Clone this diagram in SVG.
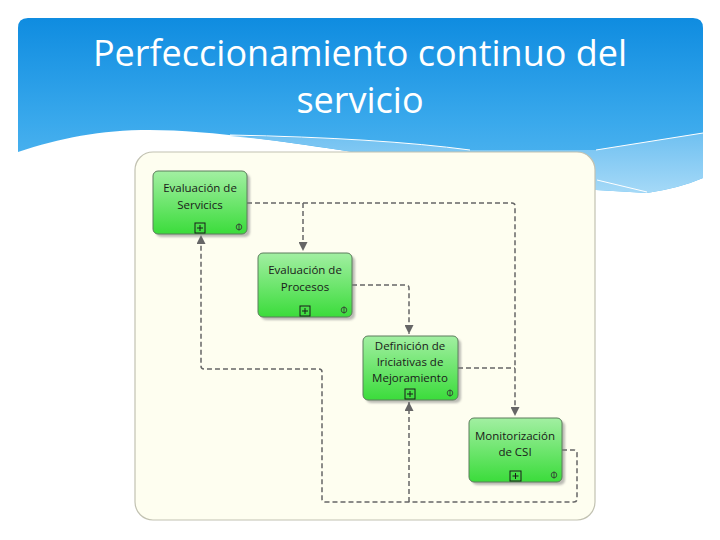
<svg xmlns="http://www.w3.org/2000/svg" width="720" height="540" viewBox="0 0 720 540">
<defs>
<linearGradient id="sky" x1="0" y1="0" x2="0" y2="1">
<stop offset="0" stop-color="#0f8ce0"/>
<stop offset="0.6" stop-color="#3aa9ec"/>
<stop offset="1" stop-color="#5ab9f0"/>
</linearGradient>
<linearGradient id="band" x1="0" y1="0" x2="0" y2="1">
<stop offset="0" stop-color="#6fc0f1"/>
<stop offset="1" stop-color="#a5d9f7"/>
</linearGradient>
<linearGradient id="green" x1="0" y1="0" x2="0" y2="1">
<stop offset="0" stop-color="#a2efa2"/>
<stop offset="1" stop-color="#3bdc3b"/>
</linearGradient>
<filter id="blur" x="-10%" y="-10%" width="130%" height="130%">
<feGaussianBlur stdDeviation="1.2"/>
</filter>
<marker id="arr" viewBox="0 0 10 10" refX="10" refY="5" markerWidth="9" markerHeight="9" markerUnits="userSpaceOnUse" orient="auto">
<path d="M0,0 L10,5 L0,10 Z" fill="#666"/>
</marker>
</defs>
<style>
.title{font-family:"Open Sans","Liberation Sans",sans-serif;font-size:36px;fill:#ffffff;text-anchor:middle}
.box{fill:url(#green);stroke:#5d7d5d;stroke-width:1}
.shadow{fill:#7a7a7a;opacity:0.5;filter:url(#blur)}
.lbl{font-family:"Open Sans","Liberation Sans",sans-serif;font-size:11.5px;fill:#1a1a1a;text-anchor:middle}
.plus{fill:none;stroke:#1a1a1a;stroke-width:1}
.ico{fill:none;stroke:#333;stroke-width:0.8}
.conn{fill:none;stroke:#666;stroke-width:1.5;stroke-dasharray:5 3}
</style>
<rect width="720" height="540" fill="#ffffff"/>
<!-- header -->
<path d="M18,28 Q18,18 28,18 H693 Q703,18 703,28 V178 Q680,188 647,193 L596,190 L340,150 C260,138 200,130 150,130 C100,130 60,138 18,152 Z" fill="url(#sky)"/>
<path d="M230,136 Q380,138 470,150 L596,150 L703,133 V178 Q680,188 647,193 L596,190 L340,150 C300,144 265,139 230,136 Z" fill="url(#band)"/>
<g fill="none" stroke="#ffffff" stroke-width="1">
<path d="M230,135 Q380,138 470,150"/>
<path d="M596,150 L703,133"/>
<path d="M597,180 L647,192"/>
</g>
<text class="title" x="360" y="66">Perfeccionamiento continuo del</text>
<text class="title" x="360" y="113">servicio</text>
<!-- panel -->
<rect x="135" y="152" width="460" height="368" rx="18" fill="#fefef0" stroke="#c2c2b2" stroke-width="1.2"/>
<!-- connectors -->
<g id="connectors">
<path class="conn" d="M247,203 H512 Q515,203 515,206 V416" marker-end="url(#arr)"/>
<path class="conn" d="M303,203 V251" marker-end="url(#arr)"/>
<path class="conn" d="M352,285 H406 Q409,285 409,288 V334" marker-end="url(#arr)"/>
<path class="conn" d="M458,368 H515"/>
<path class="conn" d="M562,450 H574 Q577,450 577,453 V499 Q577,502 574,502 H325 Q322,502 322,499 V372 Q322,369 319,369 H204 Q201,369 201,366 V235" marker-end="url(#arr)"/>
<path class="conn" d="M409,502 V402" marker-end="url(#arr)"/>
</g>
<!-- nodes -->
<g id="n1">
<rect class="shadow" x="156" y="174" width="94" height="63" rx="5"/>
<rect class="box" x="153" y="171" width="94" height="63" rx="5"/>
<text class="lbl" x="200" y="192">Evaluación de</text>
<text class="lbl" x="200" y="209">Servicics</text>
<rect class="plus" x="195" y="223" width="10" height="10"/>
<path class="plus" d="M200,225 V231 M197,228 H203"/>
<circle class="ico" cx="239" cy="227" r="2.8"/>
<path class="ico" d="M239,223.5 V230.5"/>
</g>
<g id="n2">
<rect class="shadow" x="261" y="256" width="94" height="64" rx="5"/>
<rect class="box" x="258" y="253" width="94" height="64" rx="5"/>
<text class="lbl" x="305" y="274">Evaluación de</text>
<text class="lbl" x="305" y="291">Procesos</text>
<rect class="plus" x="300" y="306" width="10" height="10"/>
<path class="plus" d="M305,308 V314 M302,311 H308"/>
<circle class="ico" cx="344" cy="310" r="2.8"/>
<path class="ico" d="M344,306.5 V313.5"/>
</g>
<g id="n3">
<rect class="shadow" x="366" y="339" width="95" height="64" rx="5"/>
<rect class="box" x="363" y="336" width="95" height="64" rx="5"/>
<text class="lbl" x="410" y="350">Definición de</text>
<text class="lbl" x="410" y="366">Iriciativas de</text>
<text class="lbl" x="410" y="382">Mejoramiento</text>
<rect class="plus" x="405" y="389" width="10" height="10"/>
<path class="plus" d="M410,391 V397 M407,394 H413"/>
<circle class="ico" cx="450" cy="393" r="2.8"/>
<path class="ico" d="M450,389.5 V396.5"/>
</g>
<g id="n4">
<rect class="shadow" x="472" y="421" width="93" height="64" rx="5"/>
<rect class="box" x="469" y="418" width="93" height="64" rx="5"/>
<text class="lbl" x="515" y="440">Monitorización</text>
<text class="lbl" x="515" y="456">de CSI</text>
<rect class="plus" x="510" y="471" width="11" height="10"/>
<path class="plus" d="M515.5,473 V479 M512.5,476 H518.5"/>
<circle class="ico" cx="554" cy="475" r="2.8"/>
<path class="ico" d="M554,471.5 V478.5"/>
</g>
</svg>
